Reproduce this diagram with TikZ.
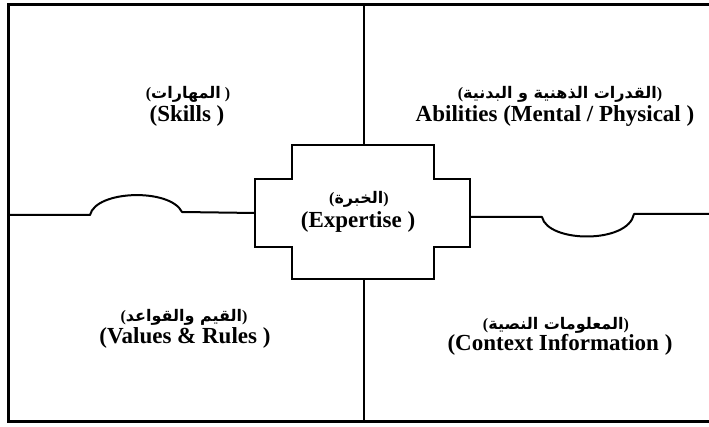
\documentclass[tikz,border=0pt]{standalone}
\usepackage{fontspec}
\setmainfont{Liberation Serif}
\newfontfamily\arfont[Script=Arabic]{DejaVu Sans}
\TeXXeTstate=1
% Arabic run set right to left, kept apart from the Latin brackets around it
\newcommand\artext[1]{{\arfont\beginR #1\endR}}
\begin{document}
\begin{tikzpicture}[x=1pt,y=-1pt,
  frameline/.style={line width=3pt, line join=miter},
  divider/.style={line width=1.8pt},
  link/.style={line width=2pt, line cap=round, line join=round},
  hub/.style={line width=2.6pt, line join=miter, fill=white},
  en/.style={font=\fontsize{23}{25}\selectfont\bfseries, inner sep=0pt},
  ar/.style={font=\fontsize{16}{18}\selectfont\bfseries, inner sep=0pt}]

\useasboundingbox (0,0) rectangle (709,427);

% outer frame (open on the right) and the vertical divider
\coordinate (tl) at (8,5);
\coordinate (tr) at (712,5);
\coordinate (bl) at (8,421);
\coordinate (br) at (712,421);
\draw[frameline] (tr) -- (tl) -- (bl) -- (br);
\coordinate (divT) at (364,5);
\coordinate (divB) at (364,421);
\draw[divider] (divT) -- (divB);

% left connector with its raised bump
\coordinate (leftEnd) at (8,215);
\coordinate (bumpA) at (90,215);
\coordinate (bumpB) at (182,212);
\coordinate (hubW) at (255,213);
\draw[link] (leftEnd) -- (bumpA) .. controls (96,190) and (170,188) .. (bumpB) -- (hubW);

% right connector with its lowered dip
\coordinate (hubE) at (470,217);
\coordinate (dipA) at (542,217);
\coordinate (dipB) at (634,214);
\coordinate (rightEnd) at (712,214);
\draw[link] (hubE) -- (dipA) .. controls (548,243) and (628,244) .. (dipB) -- (rightEnd);

% central cross-shaped hub
\draw[hub] (292,145) -- (434,145) -- (434,179) -- (470,179) -- (470,247)
  -- (434,247) -- (434,279) -- (292,279) -- (292,247) -- (255,247)
  -- (255,179) -- (292,179) -- cycle;

\node[ar] (hubAr) at (359,199) {(\artext{الخبرة})};
\node[en] (hubEn) at (358,222) {(Expertise )};

% quadrant labels
\node[ar] (skillsAr) at (188,94) {(\artext{المهارات}\ )};
\node[en] (skillsEn) at (187,116) {(Skills )};

\node[ar] (abilAr) at (560,94) {(\artext{القدرات الذهنية و البدنية})};
\node[en] (abilEn) at (555,116) {Abilities (Mental / Physical )};

\node[ar] (valuesAr) at (184,317) {(\artext{القيم والقواعد})};
\node[en] (valuesEn) at (185,338) {(Values \& Rules )};

\node[ar] (contextAr) at (556,325) {(\artext{المعلومات النصية})};
\node[en] (contextEn) at (560,345) {(Context Information )};

\end{tikzpicture}
\end{document}
